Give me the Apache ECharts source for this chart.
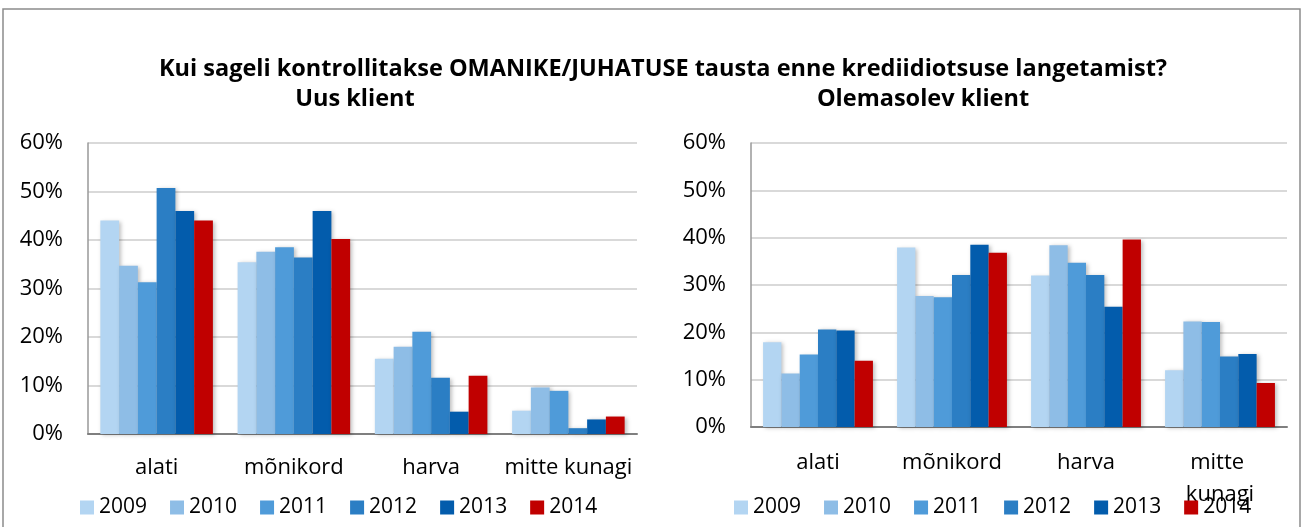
<!DOCTYPE html>
<html>
<head>
<meta charset="utf-8">
<script src="https://cdn.jsdelivr.net/npm/echarts@6/dist/echarts.min.js"></script>
<style>
  html, body { margin: 0; padding: 0; background: #fff; }
  #chart { width: 1304px; height: 527px; }
</style>
</head>
<body>
<div id="chart"></div>
<script>
// andmed
const categories = ["alati", "mõnikord", "harva", "mitte kunagi"];
const years = ["2009", "2010", "2011", "2012", "2013", "2014"];
const yTicks = ["0%", "10%", "20%", "30%", "40%", "50%", "60%"];

// Uus klient
const uus2009 = [44.0, 35.4, 15.5, 4.8];
const uus2010 = [34.7, 37.6, 18.0, 9.6];
const uus2011 = [31.3, 38.5, 21.1, 8.9];
const uus2012 = [50.7, 36.4, 11.6, 1.2];
const uus2013 = [46.0, 46.0, 4.6, 3.0];
const uus2014 = [44.0, 40.2, 12.0, 3.6];

// Olemasolev klient
const ole2009 = [17.9, 37.9, 32.0, 12.0];
const ole2010 = [11.3, 27.7, 38.4, 22.3];
const ole2011 = [15.3, 27.4, 34.7, 22.2];
const ole2012 = [20.6, 32.1, 32.1, 14.9];
const ole2013 = [20.4, 38.5, 25.4, 15.4];
const ole2014 = [14.0, 36.8, 39.6, 9.3];

const colors = ["#B3D5F2", "#8EBDE6", "#4F9BD9", "#2B7EC4", "#035CAC", "#C00000"];
const font = "'Open Sans', Lato, sans-serif";

const uusData = [uus2009, uus2010, uus2011, uus2012, uus2013, uus2014];
const oleData = [ole2009, ole2010, ole2011, ole2012, ole2013, ole2014];

const chart = echarts.init(document.getElementById("chart"));

const makeSeries = (dataList, idx) =>
  dataList.map((d, i) => ({
    name: years[i],
    type: "bar",
    xAxisIndex: idx,
    yAxisIndex: idx,
    data: d,
    barGap: "0%",
    barCategoryGap: "18%",
    itemStyle: {
      color: colors[i],
      shadowColor: "rgba(0,0,0,0.25)",
      shadowBlur: 4,
      shadowOffsetX: 2,
      shadowOffsetY: 1,
    },
  }));

const yAxisBase = {
  type: "value",
  min: 0,
  max: 60,
  interval: 10,
  axisLine: { show: true, lineStyle: { color: "#999", width: 1.5 } },
  axisTick: { show: false },
  axisLabel: {
    margin: 25,
    fontSize: 22,
    fontFamily: font,
    color: "#000",
    formatter: (v) => yTicks[v / 10],
  },
  splitLine: { lineStyle: { color: "#d9d9d9", width: 2 } },
};

const xAxisBase = {
  type: "category",
  data: categories,
  axisLine: { lineStyle: { color: "#7f7f7f", width: 2 } },
  axisTick: { show: false },
  axisLabel: {
    margin: 23,
    fontSize: 22,
    fontFamily: font,
    color: "#000",
    interval: 0,
  },
};

const legendBase = {
  itemWidth: 14,
  itemHeight: 14,
  itemGap: 23,
  icon: "rect",
  textStyle: { fontSize: 21, fontFamily: font, color: "#000" },
};

const titleStyle = { fontSize: 23.5, fontWeight: "bold", fontFamily: font, color: "#000" };

const option = {
  animation: false,
  textStyle: { fontFamily: font },
  title: [
    {
      text: "Kui sageli kontrollitakse OMANIKE/JUHATUSE tausta enne krediidiotsuse langetamist?",
      left: 658,
      top: 52,
      textAlign: "center",
      textStyle: titleStyle,
    },
    {
      text: "Uus klient",
      left: 350,
      top: 82,
      textAlign: "center",
      textStyle: titleStyle,
    },
    {
      text: "Olemasolev klient",
      left: 918,
      top: 82,
      textAlign: "center",
      textStyle: titleStyle,
    },
  ],
  graphic: [
    {
      type: "rect",
      shape: { x: 3, y: 9, width: 1297, height: 530 },
      style: { fill: "none", stroke: "#8c8c8c", lineWidth: 1.5 },
      z: -1,
    },
  ],
  legend: [
    Object.assign({}, legendBase, { data: years, left: 75, top: 492 }),
    Object.assign({}, legendBase, { data: years.map((y) => ({ name: y })), left: 729, top: 492 }),
  ],
  grid: [
    { left: 88, right: 667, top: 143, bottom: 93 },
    { left: 751, right: 17, top: 143, bottom: 100 },
  ],
  xAxis: [
    Object.assign({}, xAxisBase, { gridIndex: 0 }),
    Object.assign({}, xAxisBase, {
      gridIndex: 1,
      axisLabel: Object.assign({}, xAxisBase.axisLabel, {
        width: 110,
        overflow: "break",
        lineHeight: 32,
        verticalAlign: "top",
        margin: 20,
      }),
    }),
  ],
  yAxis: [
    Object.assign({}, yAxisBase, { gridIndex: 0 }),
    Object.assign({}, yAxisBase, { gridIndex: 1 }),
  ],
  series: [...makeSeries(uusData, 0), ...makeSeries(oleData, 1)],
};

chart.setOption(option);
</script>
</body>
</html>
